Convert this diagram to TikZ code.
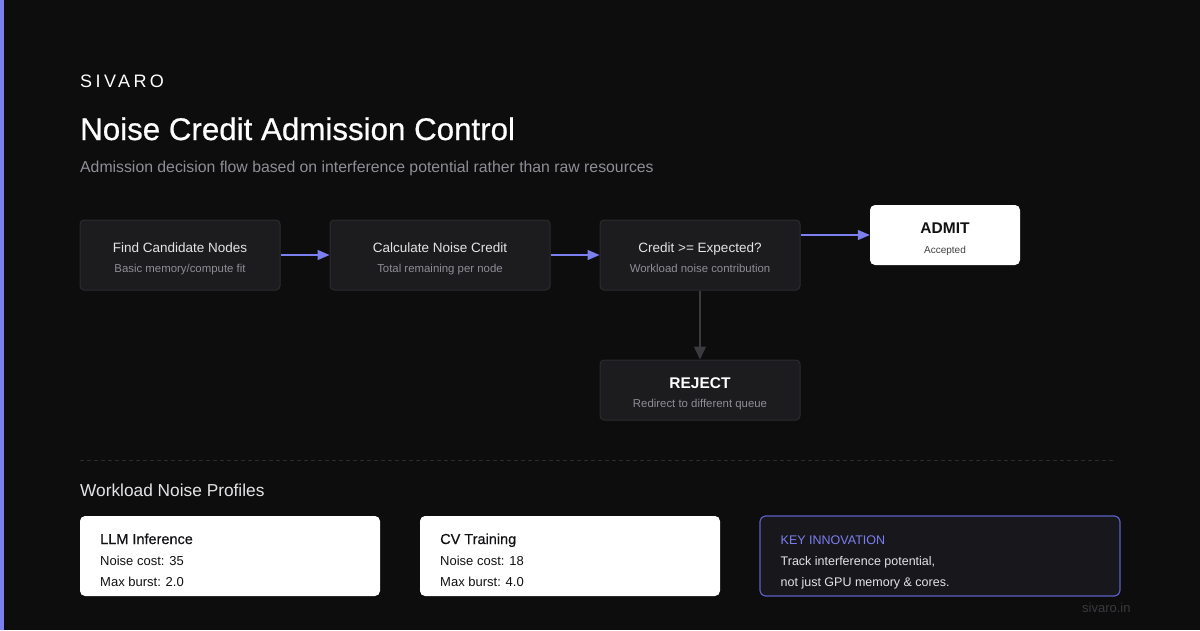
\documentclass[tikz,border=0pt]{standalone}
\usepackage{fontspec}
\setmainfont{Liberation Sans}
\usetikzlibrary{arrows.meta}
\definecolor{bg}{HTML}{0D0D0E}
\definecolor{accent}{HTML}{7B7FF0}
\definecolor{boxfill}{HTML}{1C1C1F}
\definecolor{boxline}{HTML}{2C2C30}
\definecolor{keyfill}{HTML}{18181C}
\definecolor{keyline}{HTML}{5B5FC4}
\definecolor{soft}{HTML}{E4E4E7}
\definecolor{muted}{HTML}{8E8E96}
\definecolor{ink}{HTML}{111113}
\definecolor{downline}{HTML}{3A3A3F}
\begin{document}
\begin{tikzpicture}[x=1pt,y=-1pt,
    stepbox/.style={draw=boxline,line width=1pt,fill=boxfill,rounded corners=4pt},
    endbox/.style={fill=white,rounded corners=5pt},
    head/.style={anchor=base,text=soft,font=\fontsize{13.5}{16}\selectfont,inner sep=0pt},
    sub/.style={anchor=base,text=muted,font=\fontsize{11.4}{13}\selectfont,inner sep=0pt},
    left/.style={anchor=base west,inner sep=0pt},
    flow/.style={draw=accent,line width=1.5pt,-{Triangle[length=12pt,width=10pt]}}]
  \useasboundingbox (0,0) rectangle (1200,630);
  \fill[bg] (0,0) rectangle (1200,630);
  \fill[accent] (0,0) rectangle (4,630);
  % header
  \node[left,text=white,font=\fontsize{18}{20}\selectfont\addfontfeature{LetterSpace=19}] (brand) at (80,87.5) {SIVARO};
  \node[left,text=white,font=\fontsize{31.3}{36}\selectfont\addfontfeature{FakeBold=0.6}] (title) at (80,140) {Noise Credit Admission Control};
  \node[left,text=muted,font=\fontsize{15.8}{18}\selectfont] (subtitle) at (80,172.5) {Admission decision flow based on interference potential rather than raw resources};
  % flow
  \node[stepbox,minimum width=200pt,minimum height=70pt] (find) at (180,255) {};
  \node[stepbox,minimum width=220pt,minimum height=70pt] (calc) at (440,255) {};
  \node[stepbox,minimum width=200pt,minimum height=70pt] (credit) at (700,255) {};
  \node[endbox,minimum width=150pt,minimum height=60pt] (admit) at (945,235) {};
  \node[stepbox,minimum width=200pt,minimum height=60pt] (reject) at (700,390) {};
  \node[head] (findhead) at (180,252.3) {Find Candidate Nodes};
  \node[sub] (findsub) at (180,272) {Basic memory/compute fit};
  \node[head] (calchead) at (440,252.3) {Calculate Noise Credit};
  \node[sub] (calcsub) at (440,272) {Total remaining per node};
  \node[head] (credithead) at (700,252.3) {Credit >= Expected?};
  \node[sub] (creditsub) at (700,272) {Workload noise contribution};
  \node[head,text=ink,font=\fontsize{15.5}{18}\selectfont\bfseries] (admithead) at (945,233.3) {ADMIT};
  \node[sub,text=ink!80,font=\fontsize{10}{12}\selectfont] (admitsub) at (945,253.3) {Accepted};
  \node[head,text=white,font=\fontsize{15.5}{18}\selectfont\bfseries] (rejecthead) at (700,388.3) {REJECT};
  \node[sub] (rejectsub) at (700,407.5) {Redirect to different queue};
  \draw[flow] (find.east) -- (calc.west);
  \draw[flow] (calc.east) -- (credit.west);
  \draw[flow] (credit.east |- admit.west) -- (admit.west);
  \draw[draw=downline,line width=1.5pt,-{Triangle[length=13pt,width=12pt]}] (credit.south) -- (reject.north);
  % profiles
  \draw[boxline,line width=1pt,dash pattern=on 3.5pt off 3.5pt] (80,460) -- (1115,460);
  \node[left,text=soft,font=\fontsize{17.3}{20}\selectfont] (profiles) at (80,496) {Workload Noise Profiles};
  \node[endbox,minimum width=300pt,minimum height=80pt] (llm) at (230,556) {};
  \node[endbox,minimum width=300pt,minimum height=80pt] (cv) at (570,556) {};
  \node[draw=keyline,line width=1.2pt,fill=keyfill,rounded corners=6pt,minimum width=360pt,minimum height=80pt] (key) at (940,556) {};
  \node[left,text=ink,font=\fontsize{14.5}{17}\selectfont\addfontfeature{FakeBold=0.5}] (llmhead) at (100,544) {LLM Inference};
  \node[left,text=ink,font=\fontsize{13}{15}\selectfont] (llmcost) at (100,565.7) {Noise cost: 35};
  \node[left,text=ink,font=\fontsize{13}{15}\selectfont] (llmburst) at (100,586) {Max burst: 2.0};
  \node[left,text=ink,font=\fontsize{14.5}{17}\selectfont\addfontfeature{FakeBold=0.5}] (cvhead) at (440,544) {CV Training};
  \node[left,text=ink,font=\fontsize{13}{15}\selectfont] (cvcost) at (440,565.7) {Noise cost: 18};
  \node[left,text=ink,font=\fontsize{13}{15}\selectfont] (cvburst) at (440,586) {Max burst: 4.0};
  \node[left,text=accent,font=\fontsize{12.5}{15}\selectfont] (keyhead) at (780.5,544) {KEY INNOVATION};
  \node[left,text=soft,font=\fontsize{12.5}{15}\selectfont] (keyline1) at (780.5,565.7) {Track interference potential,};
  \node[left,text=soft,font=\fontsize{12.5}{15}\selectfont] (keyline2) at (780.5,586) {not just GPU memory \& cores.};
  \node[left,text=downline,font=\fontsize{13}{15}\selectfont] (site) at (1082,612.5) {sivaro.in};
\end{tikzpicture}
\end{document}
